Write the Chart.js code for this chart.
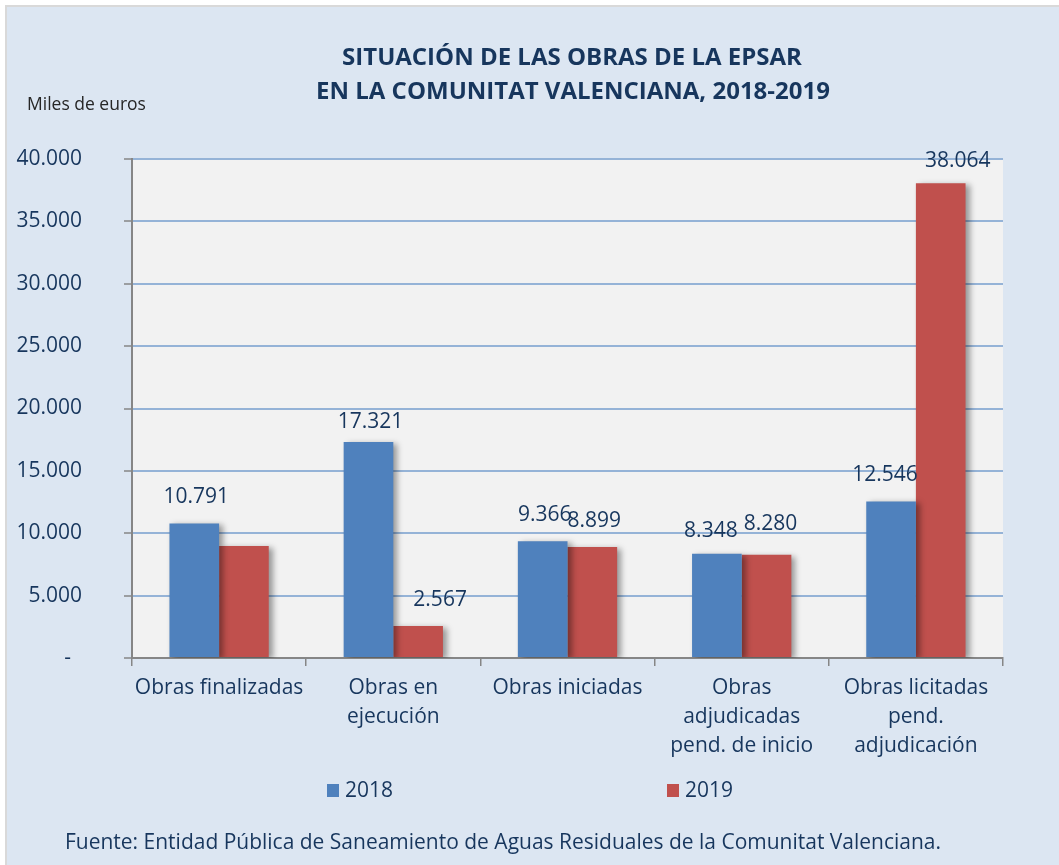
<!DOCTYPE html>
<html>
<head>
<meta charset="utf-8">
<script src="https://cdn.jsdelivr.net/npm/chart.js@4.4.1/dist/chart.umd.min.js"></script>
<style>
  html, body { margin: 0; padding: 0; background: #ffffff; }
  #wrap { width: 1059px; height: 865px; position: relative; }
</style>
</head>
<body>
<div id="wrap"><canvas id="chart" width="1059" height="865"></canvas></div>
<script>
// data (miles de euros)
var categories = [
  'Obras finalizadas',
  ['Obras en', 'ejecución'],
  'Obras iniciadas',
  ['Obras', 'adjudicadas', 'pend. de inicio'],
  ['Obras licitadas', 'pend.', 'adjudicación']
];
var seriesNames = ['2018', '2019'];
var values2018 = [10791, 17321, 9366, 8348, 12546];
var values2019 = [8978, 2567, 8899, 8280, 38064];
// which bars carry a value label in the original
var labeled2018 = [true, true, true, true, true];
var labeled2019 = [false, true, true, true, true];
var yTicks = [0, 5000, 10000, 15000, 20000, 25000, 30000, 35000, 40000];

var titleLines = ['SITUACIÓN DE LAS OBRAS DE LA EPSAR', 'EN LA COMUNITAT VALENCIANA, 2018-2019'];
var unitText = 'Miles de euros';
var sourceText = 'Fuente: Entidad Pública de Saneamiento de Aguas Residuales de la Comunitat Valenciana.';

var navy = '#17365d';
var font = "'Open Sans', 'DejaVu Sans', sans-serif";

// a few labels were nudged by hand in the original
var labelNudge = {
  '0-1': [0, 6],
  '0-3': [-8, 3],
  '0-4': [-8, 0],
  '1-1': [20, 0],
  '1-3': [2, -5],
  '1-4': [15, 4]
};

function fmt(v) {
  if (v === 0) return '-  ';
  return String(v).replace(/\B(?=(\d{3})+(?!\d))/g, '.');
}

// background, frame and plot area fill
var backgroundPlugin = {
  id: 'background',
  beforeDraw: function(chart) {
    var ctx = chart.ctx;
    var a = chart.chartArea;
    ctx.save();
    ctx.fillStyle = '#ffffff';
    ctx.fillRect(0, 0, chart.width, chart.height);
    ctx.fillStyle = '#d9d9d9';
    ctx.fillRect(5, 5, chart.width - 5, chart.height - 5);
    ctx.fillStyle = '#dce6f2';
    ctx.fillRect(7, 7, chart.width - 7, chart.height - 7);
    ctx.fillStyle = '#f2f2f2';
    ctx.fillRect(a.left, a.top, a.right - a.left, a.bottom - a.top);
    ctx.restore();
  }
};

// soft shadow behind the bars
var shadowPlugin = {
  id: 'barShadow',
  beforeDatasetsDraw: function(chart) {
    var ctx = chart.ctx;
    ctx.save();
    ctx.shadowColor = 'rgba(0,0,0,0.38)';
    ctx.shadowBlur = 6;
    ctx.shadowOffsetX = 4;
    ctx.shadowOffsetY = 2;
  },
  afterDatasetsDraw: function(chart) {
    chart.ctx.restore();
  }
};

// value labels, title, unit, legend and source
var textPlugin = {
  id: 'texts',
  afterDraw: function(chart) {
    var ctx = chart.ctx;
    ctx.save();

    // value labels above bars
    ctx.fillStyle = navy;
    ctx.font = '21px ' + font;
    ctx.textAlign = 'center';
    ctx.textBaseline = 'middle';
    chart.data.datasets.forEach(function(ds, di) {
      var meta = chart.getDatasetMeta(di);
      meta.data.forEach(function(bar, i) {
        if (!ds.showLabel[i]) return;
        var n = labelNudge[di + '-' + i] || [0, 0];
        ctx.fillText(fmt(ds.data[i]), bar.x + 2 + n[0], bar.y - 26 + n[1]);
      });
    });

    // title
    ctx.textBaseline = 'alphabetic';
    ctx.font = 'bold 24px ' + font;
    ctx.fillText(titleLines[0], 572, 65, 470);
    ctx.fillText(titleLines[1], 573, 99, 527);

    // unit
    ctx.fillStyle = '#262626';
    ctx.font = '17.5px ' + font;
    ctx.textAlign = 'left';
    ctx.fillText(unitText, 27, 110, 126);

    // legend
    ctx.textBaseline = 'middle';
    var legendX = [327, 667];
    ctx.font = '21px ' + font;
    chart.data.datasets.forEach(function(ds, di) {
      ctx.fillStyle = ds.backgroundColor;
      ctx.fillRect(legendX[di], 784, 12, 13);
      ctx.fillStyle = navy;
      ctx.fillText(ds.label, legendX[di] + 18, 791);
    });

    // source
    ctx.fillText(sourceText, 65, 843, 876);
    ctx.restore();
  }
};

var ctx = document.getElementById('chart').getContext('2d');
var myChart = new Chart(ctx, {
  type: 'bar',
  data: {
    labels: categories,
    datasets: [
      {
        label: seriesNames[0],
        data: values2018,
        showLabel: labeled2018,
        backgroundColor: '#4f81bd',
        categoryPercentage: 0.57,
        barPercentage: 1.0
      },
      {
        label: seriesNames[1],
        data: values2019,
        showLabel: labeled2019,
        backgroundColor: '#c0504d',
        categoryPercentage: 0.57,
        barPercentage: 1.0
      }
    ]
  },
  options: {
    responsive: false,
    animation: false,
    devicePixelRatio: 1,
    layout: { padding: { top: 159, right: 56, bottom: 97, left: 0 } },
    plugins: {
      legend: { display: false },
      title: { display: false },
      tooltip: { enabled: false }
    },
    scales: {
      x: {
        afterFit: function(scale) { scale.height = 110; },
        grid: {
          offset: true,
          drawOnChartArea: false,
          drawTicks: true,
          tickLength: 8,
          color: '#868686',
          lineWidth: 1.5
        },
        border: { color: '#868686', width: 2 },
        ticks: {
          color: navy,
          font: { family: font, size: 21, lineHeight: 1.38 },
          padding: 8,
          maxRotation: 0,
          autoSkip: false
        }
      },
      y: {
        min: 0,
        max: 40000,
        afterFit: function(scale) { scale.width = 132; },
        afterBuildTicks: function(scale) {
          scale.ticks = yTicks.map(function(v) { return { value: v }; });
        },
        grid: {
          color: function(c) { return c.tick && c.tick.value === 0 ? 'rgba(0,0,0,0)' : '#95b3d7'; },
          lineWidth: 2,
          tickLength: 8,
          tickColor: '#868686',
          tickWidth: 1.5
        },
        border: { color: '#868686', width: 2 },
        ticks: {
          color: navy,
          font: { family: font, size: 21 },
          padding: 42,
          callback: function(v) { return fmt(v); }
        }
      }
    }
  },
  plugins: [backgroundPlugin, shadowPlugin, textPlugin]
});
</script>
</body>
</html>
